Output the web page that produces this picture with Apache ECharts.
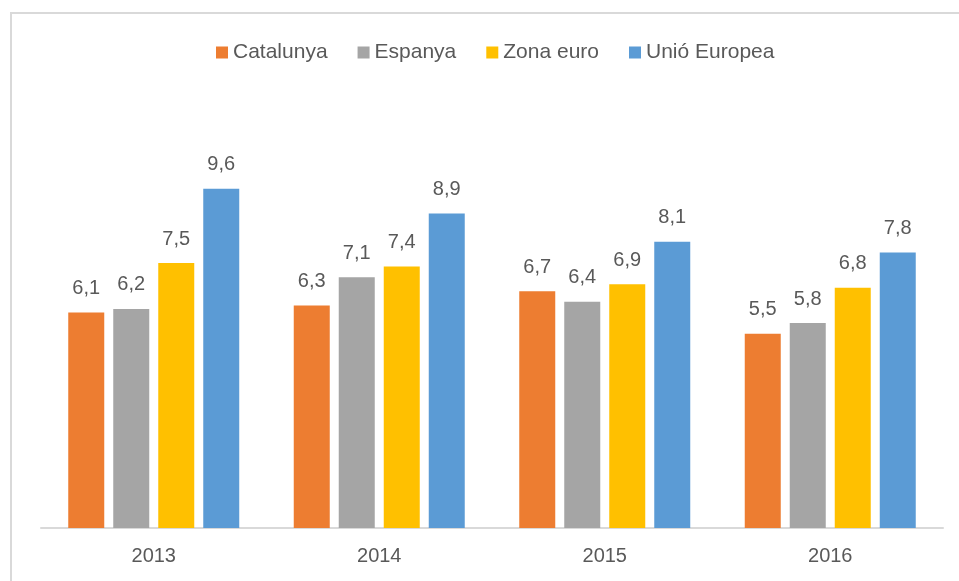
<!DOCTYPE html>
<html>
<head>
<meta charset="utf-8">
<script src="https://cdn.jsdelivr.net/npm/echarts@6/dist/echarts.min.js"></script>
<style>
html,body{margin:0;padding:0;background:#fff;}
#chart{width:959px;height:581px;}
</style>
</head>
<body>
<div id="chart"></div>
<script>
var categories = ['2013', '2014', '2015', '2016'];
var seriesNames = ['Catalunya', 'Espanya', 'Zona euro', 'Unió Europea'];
var catalunya = [6.1, 6.3, 6.7, 5.5];
var espanya = [6.2, 7.1, 6.4, 5.8];
var zonaEuro = [7.5, 7.4, 6.9, 6.8];
var unioEuropea = [9.6, 8.9, 8.1, 7.8];
var colors = ['#ED7D31', '#A5A5A5', '#FFC000', '#5B9BD5'];

var FONT = '"Liberation Sans", Arial, sans-serif';
var values = [catalunya, espanya, zonaEuro, unioEuropea];

var chart = echarts.init(document.getElementById('chart'), null, {renderer: 'canvas'});
chart.setOption({
  animation: false,
  backgroundColor: '#fff',
  color: colors,
  graphic: [{
    type: 'rect',
    shape: {x: 11, y: 13, width: 1200, height: 1200},
    style: {fill: 'none', stroke: '#d9d9d9', lineWidth: 2},
    silent: true
  }],
  legend: {
    data: seriesNames,
    left: 211,
    top: 37,
    itemWidth: 12,
    itemHeight: 12,
    itemGap: 30,
    icon: 'rect',
    textStyle: {fontFamily: FONT, fontSize: 21, color: '#595959'}
  },
  grid: {left: 41, right: 16, top: 104, bottom: 53, containLabel: false},
  xAxis: {
    type: 'category',
    data: categories,
    axisTick: {show: false},
    axisLine: {show: true, lineStyle: {color: '#d9d9d9', width: 2}},
    axisLabel: {fontFamily: FONT, fontSize: 20, color: '#595959', margin: 18}
  },
  yAxis: {
    type: 'value',
    min: 0,
    max: 12,
    show: false,
    splitLine: {show: false}
  },
  series: seriesNames.map(function (name, i) {
    return {
      name: name,
      type: 'bar',
      data: values[i],
      barWidth: 36,
      barGap: '25%',
      itemStyle: {color: colors[i]},
      label: {
        show: true,
        position: 'top',
        distance: 14,
        fontFamily: FONT,
        fontSize: 20,
        color: '#595959',
        formatter: function (p) { return String(p.value).replace('.', ','); }
      }
    };
  })
});
</script>
</body>
</html>
